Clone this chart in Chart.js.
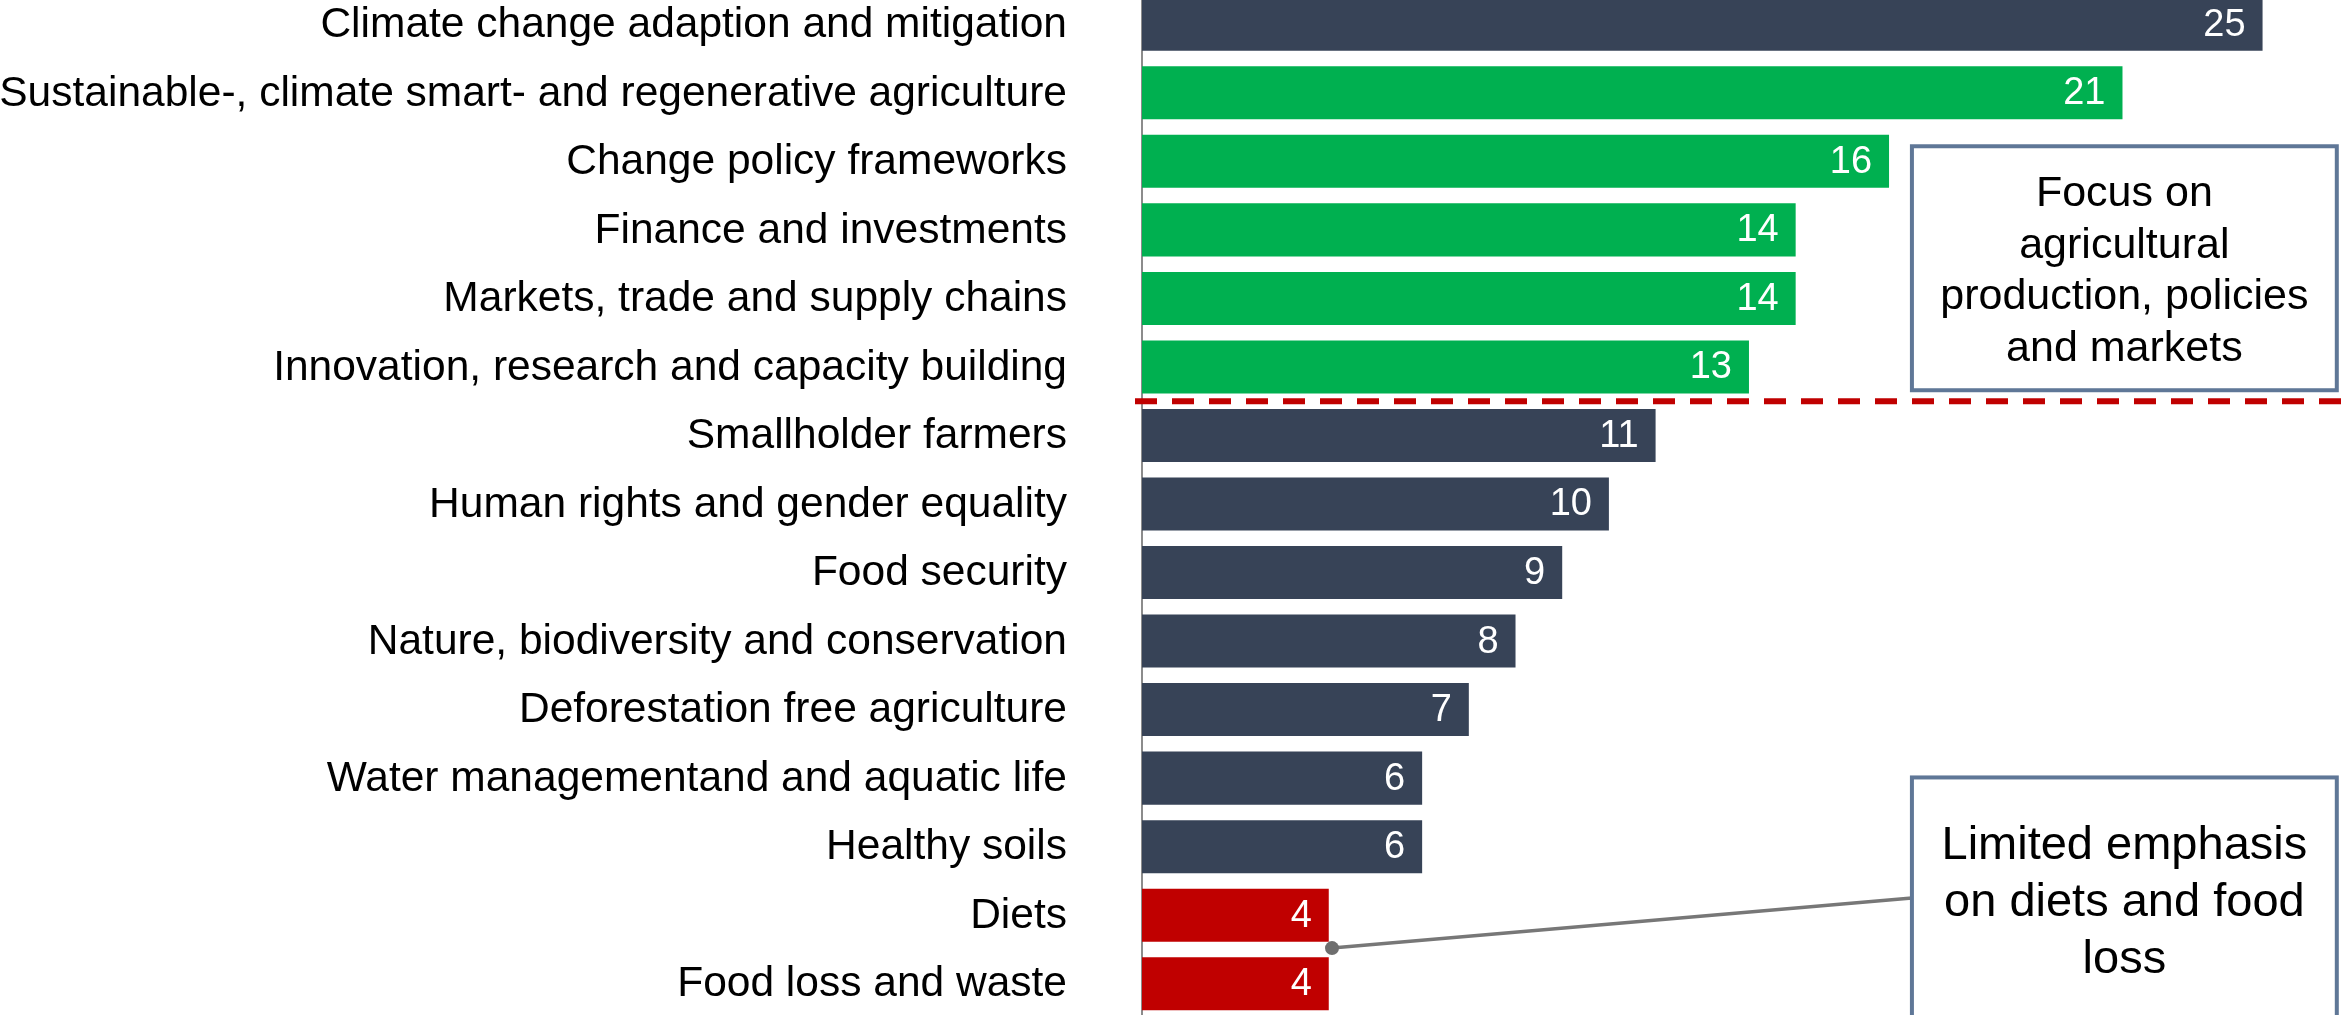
<!DOCTYPE html>
<html>
<head>
<meta charset="utf-8">
<script src="https://cdn.jsdelivr.net/npm/chart.js@4"></script>
<style>
  html, body { margin: 0; padding: 0; background: #fff; overflow: hidden; }
  #wrap { position: absolute; left: 0; top: -10px; width: 2341px; height: 1028px; }
</style>
</head>
<body>
<div id="wrap"><canvas id="topicsChart" width="2341" height="1028"></canvas></div>
<script>
// Topics
const categories = [
  'Climate change adaption and mitigation',
  'Sustainable-, climate smart- and regenerative agriculture',
  'Change policy frameworks',
  'Finance and investments',
  'Markets, trade and supply chains',
  'Innovation, research and capacity building',
  'Smallholder farmers',
  'Human rights and gender equality',
  'Food security',
  'Nature, biodiversity and conservation',
  'Deforestation free agriculture',
  'Water managementand and aquatic life',
  'Healthy soils',
  'Diets',
  'Food loss and waste'
];
// bar lengths as drawn (top bar is drawn a bit shorter than its label says)
const barValues = [24, 21, 16, 14, 14, 13, 11, 10, 9, 8, 7, 6, 6, 4, 4];
const valueLabels = ['25', '21', '16', '14', '14', '13', '11', '10', '9', '8', '7', '6', '6', '4', '4'];
const groups = ['other', 'focus', 'focus', 'focus', 'focus', 'focus', 'other', 'other', 'other', 'other', 'other', 'other', 'other', 'limited', 'limited'];

const groupColors = { other: '#374357', focus: '#00B050', limited: '#C00000' };
const FONT = "'Liberation Sans', Arial, sans-serif";

const focusNote = ['Focus on', 'agricultural', 'production, policies', 'and markets'];
const limitedNote = ['Limited emphasis', 'on diets and food', 'loss'];

// Labels inside bars + notes
const notesPlugin = {
  id: 'notes',
  afterDatasetsDraw(chart) {
    const ctx = chart.ctx;
    const meta = chart.getDatasetMeta(0);
    ctx.save();
    ctx.fillStyle = '#fff';
    ctx.font = '38px ' + FONT;
    ctx.textAlign = 'right';
    ctx.textBaseline = 'middle';
    meta.data.forEach((bar, i) => {
      ctx.fillText(valueLabels[i], bar.x - 17, bar.y + 1);
    });
    ctx.restore();
  },
  afterDraw(chart) {
    const ctx = chart.ctx;
    const x = chart.scales.x;
    const y = chart.scales.y;
    ctx.save();

    // divider under the focus group
    const dy = y.getPixelForValue(5.5);
    ctx.strokeStyle = '#C00000';
    ctx.lineWidth = 6;
    ctx.setLineDash([22, 15]);
    ctx.beginPath();
    ctx.moveTo(x.getPixelForValue(0) - 7, dy);
    ctx.lineTo(chart.width, dy);
    ctx.stroke();
    ctx.setLineDash([]);

    // connector to the diets / food loss bars
    const cx0 = x.getPixelForValue(4.07), cy0 = y.getPixelForValue(13.48);
    const cx1 = x.getPixelForValue(16.49), cy1 = y.getPixelForValue(12.75);
    ctx.strokeStyle = '#777777';
    ctx.lineWidth = 3.5;
    ctx.beginPath();
    ctx.moveTo(cx0, cy0);
    ctx.lineTo(cx1, cy1);
    ctx.stroke();
    ctx.fillStyle = '#6E6E6E';
    ctx.beginPath();
    ctx.arc(cx0, cy0, 7, 0, Math.PI * 2);
    ctx.fill();

    const drawBox = (v0, v1, i0, i1, lines, size, gap, firstOffset) => {
      const left = x.getPixelForValue(v0), right = x.getPixelForValue(v1);
      const top = y.getPixelForValue(i0), bottom = y.getPixelForValue(i1);
      ctx.fillStyle = '#fff';
      ctx.fillRect(left, top, right - left, bottom - top);
      ctx.strokeStyle = '#5F7797';
      ctx.lineWidth = 4;
      ctx.strokeRect(left, top, right - left, bottom - top);
      ctx.fillStyle = '#000';
      ctx.font = size + 'px ' + FONT;
      ctx.textAlign = 'center';
      ctx.textBaseline = 'middle';
      lines.forEach((t, k) => {
        ctx.fillText(t, (left + right) / 2, top + firstOffset + k * gap);
      });
    };
    drawBox(16.49, 25.59, 1.78, 5.34, focusNote, 43, 51.5, 48);
    drawBox(16.49, 25.59, 10.99, 15.6, limitedNote, 47, 57, 69);

    ctx.restore();
  }
};

const ctx = document.getElementById('topicsChart');
const topicsChart = new Chart(ctx, {
  type: 'bar',
  data: {
    labels: categories,
    datasets: [{
      data: barValues,
      backgroundColor: groups.map(g => groupColors[g]),
      borderWidth: 0,
      barPercentage: 0.774,
      categoryPercentage: 1
    }]
  },
  options: {
    indexAxis: 'y',
    responsive: false,
    devicePixelRatio: 1,
    animation: false,
    layout: { padding: 0 },
    plugins: {
      legend: { display: false },
      tooltip: { enabled: false }
    },
    scales: {
      x: {
        display: false,
        min: 0,
        max: 25.68
      },
      y: {
        z: 1,
        afterFit: s => {
          s.width = 1142;
          s.paddingTop = 0;
          s.paddingBottom = 0;
        },
        grid: { display: false, drawTicks: false },
        border: { display: true, color: '#8C8C8C', width: 2 },
        ticks: {
          padding: 75,
          labelOffset: 1,
          color: '#000',
          font: { family: FONT, size: 42.5 }
        }
      }
    }
  },
  plugins: [notesPlugin]
});
</script>
</body>
</html>
